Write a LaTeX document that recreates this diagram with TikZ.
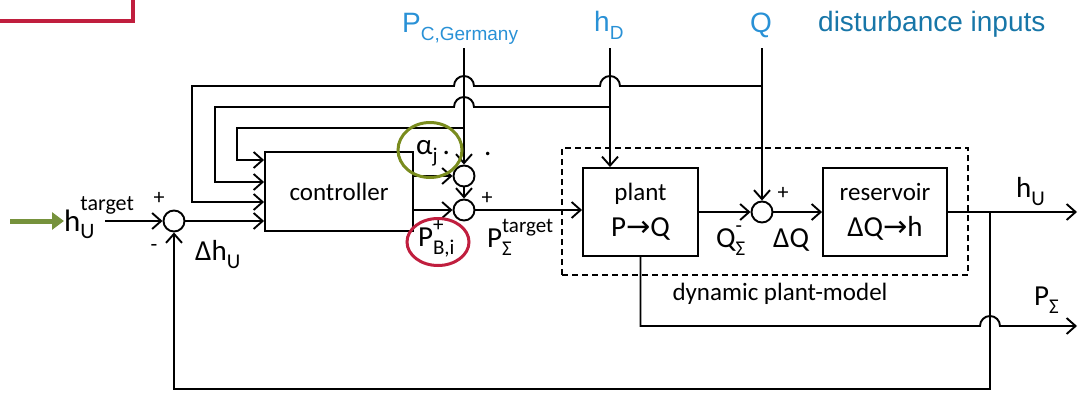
\documentclass[tikz,border=0pt]{standalone}
\usepackage{fontspec}
\setmainfont{Carlito}
\newfontfamily\arialfont{Liberation Sans}
\newfontfamily\arrfont{DejaVu Sans}
\usetikzlibrary{arrows.meta,positioning,shapes.geometric}

\definecolor{lblue}{RGB}{41,145,214}
\definecolor{dblue}{RGB}{23,118,168}
\definecolor{olivegr}{RGB}{122,140,30}
\definecolor{crimson}{RGB}{192,30,62}
\definecolor{arrgreen}{RGB}{118,146,60}

% sub- and superscripts in text font
\newcommand{\subsz}{\fontsize{21}{21}\selectfont}
\newcommand{\lsub}[2]{#1\raisebox{-.3em}{\subsz #2}}
\newcommand{\lsupsub}[3]{#1\rlap{\raisebox{.5em}{\subsz #2}}\raisebox{-.3em}{\subsz #3}}

\begin{document}
\begin{tikzpicture}[x=1pt,y=-1pt, >={Straight Barb[length=9pt,width=16pt]},
  wire/.style={line width=1.9pt},
  sig/.style={wire,->},
  blk/.style={draw,line width=1.9pt,align=center,inner sep=0pt,font=\fontsize{25}{36}\selectfont},
  sumc/.style={circle,draw,line width=1.9pt,minimum size=21pt,inner sep=0pt},
  lbl/.style={inner sep=0pt,anchor=base west,font=\fontsize{29}{29}\selectfont},
  sgn/.style={inner sep=0pt,font=\fontsize{22}{22}\selectfont},
  topl/.style={inner sep=0pt,anchor=base west,font=\arialfont\fontsize{28}{28}\selectfont\def\subsz{\fontsize{19}{19}\selectfont}},
  ring/.style={ellipse,draw,line width=3pt,inner sep=0pt}]

  \useasboundingbox (0,0) rectangle (1087,394);
  % edge of the callout, cut by the page
  \draw[crimson,line width=4pt] (-10,-10) rectangle (133,21);

  % blocks
  \node[blk,minimum width=148pt,minimum height=79pt] (ctrl) at (339,191.5) {controller};
  \node[blk,minimum width=115pt,minimum height=88pt] (plant) at (640.5,212) {plant\\\fontsize{29}{36}\selectfont P{\arrfont→}Q};
  \node[blk,minimum width=124pt,minimum height=88pt] (res) at (885,212) {reservoir\\\fontsize{29}{36}\selectfont ΔQ{\arrfont→}h};
  \node[draw,line width=1.9pt,dash pattern=on 6pt off 4pt,minimum width=406pt,minimum height=127pt,inner sep=0pt] (dpm) at (765,211.5) {};
  \node[font=\fontsize{25}{25}\selectfont,inner sep=0pt,anchor=base] (dpmlbl) at (780,300) {dynamic plant-model};

  % summing points
  \node[sumc] (s1) at (174,221) {};
  \node[sumc] (s2) at (464,176) {};
  \node[sumc] (s3) at (464,210) {};
  \node[sumc] (s4) at (762,212) {};

  % disturbance inputs
  \node[topl,text=lblue] (pc) at (402,32) {\lsub{P}{C,Germany}};
  \node[topl,text=lblue] (hd) at (594,31) {\lsub{h}{D}};
  \node[topl,text=lblue] (q) at (750,32) {Q};
  \node[topl,text=dblue] (distlbl) at (818,31) {disturbance inputs};
  \coordinate (pcT) at (464,48);
  \coordinate (hdT) at (610,48);
  \coordinate (qT) at (762,48);
  \coordinate (pcJ) at (464,128);
  \coordinate (hdJ) at (610,107);
  \coordinate (qJ) at (762,86);

  \draw[sig] (pcT) -- (s2);
  \draw[sig] (hdT) -- (hdT |- plant.north);
  \draw[sig] (qT) -- (s4);

  % taps into the controller
  \draw[sig] (qJ) -- (620,86) arc[start angle=0,end angle=-180,radius=10]
    -- (474,86) arc[start angle=0,end angle=-180,radius=10] -- (192,86) -- (192,202) -- (192,202 -| ctrl.west);
  \draw[sig] (hdJ) -- (474,107) arc[start angle=0,end angle=-180,radius=10] -- (215,107) -- (215,182) -- (215,182 -| ctrl.west);
  \draw[sig] (pcJ) -- (237,128) -- (237,160) -- (237,160 -| ctrl.west);

  % main loop
  \coordinate (gstart) at (10,221);
  \coordinate (hin) at (105,221);
  \node[inner sep=0pt,anchor=base west,font=\fontsize{31}{31}\selectfont] (hUt) at (64,231)
    {h\rlap{\raisebox{.65em}{\fontsize{22}{22}\selectfont target}}\raisebox{-.25em}{\fontsize{22}{22}\selectfont U}};
  \draw[arrgreen,line width=5pt,-{Triangle[length=12pt,width=17pt]}] (gstart) -- (gstart -| hUt.west);
  \draw[sig] (hin) -- (s1);
  \draw[sig] (s1) -- (ctrl.west |- s1);
  \draw[sig] (ctrl.east |- s2) -- (s2);
  \draw[sig] (ctrl.east |- s3) -- (s3);
  \draw[sig] (s2) -- (s3);
  \draw[sig] (s3) -- (s3 -| plant.west);
  \draw[sig] (plant.east |- s4) -- (s4);
  \draw[sig] (s4) -- (s4 -| res.west);
  \coordinate (hout) at (1077,212);
  \coordinate (tapU) at (990,212);
  \coordinate (pout) at (1077,326);
  \draw[sig] (res.east) -- (hout);
  \draw[sig] (tapU) -- (990,389) -- (174,389) -- (s1);
  \draw[sig] (plant.south) -- (plant.south |- pout) -- (980,326)
    arc[start angle=180,end angle=360,radius=10] -- (pout);

  % signs
  \node[sgn] (p1) at (159,198) {+};
  \node[sgn] (m1) at (154,248) {-};
  \node[sgn] (p3) at (487,198) {+};
  \node[sgn] (p4) at (783,193) {+};

  % signal labels
  \node[lbl] (dhU) at (195,260) {Δ\lsub{h}{U}};
  \node[lbl] (alj) at (416,154) {\lsub{α}{j}\,.};
  \node[lbl] (dot) at (484,155) {.};
  \node[lbl] (pbi) at (418,246) {\lsupsub{P}{+}{B,i}};
  \node[lbl] (pst) at (487,247) {\lsupsub{P}{target}{Σ}};
  \node[lbl] (qs) at (716,247) {\lsupsub{Q}{-}{Σ}};
  \node[lbl] (dq) at (773,247) {ΔQ};
  \node[lbl] (hU) at (1016,197) {\lsub{h}{U}};
  \node[lbl] (pS) at (1034,305) {\lsub{P}{Σ}};

  % highlights
  \node[ring,draw=olivegr,minimum width=64pt,minimum height=55pt] (aring) at (430,150) {};
  \node[ring,draw=crimson,minimum width=62pt,minimum height=47pt] (pring) at (438,242) {};
\end{tikzpicture}
\end{document}
